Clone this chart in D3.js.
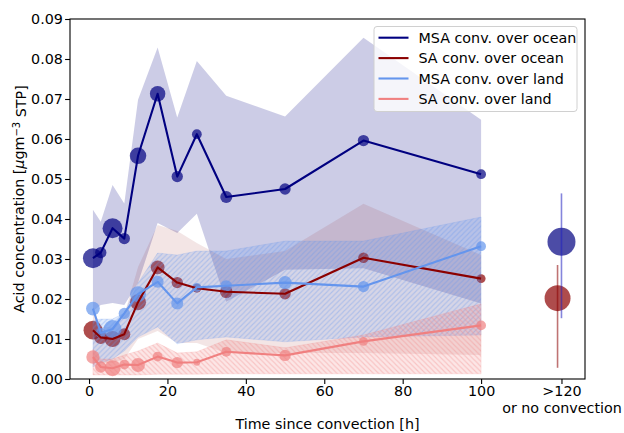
<!DOCTYPE html>
<html>
<head>
<meta charset="utf-8">
<script src="https://cdn.jsdelivr.net/npm/d3@7"></script>
<style>
  body { margin: 0; background: #fff; }
  svg text { font-family: "DejaVu Sans", sans-serif; }
</style>
</head>
<body>
<svg id="chart" width="624" height="433"></svg>
<script>
// Hours since last convection (bin centres)
const hours = [1, 3, 6, 9, 12.5, 17.5, 22.5, 27.5, 35, 50, 70, 100];

// Median acid concentrations [µg m^-3 STP]
const msaOcean = [0.0302, 0.0316, 0.0377, 0.0351, 0.0558, 0.0713, 0.0506, 0.0612, 0.0455, 0.0475, 0.0596, 0.0512];
const saOcean  = [0.0122, 0.0104, 0.0100, 0.0112, 0.0192, 0.0279, 0.0241, 0.0227, 0.0218, 0.0213, 0.0303, 0.0251];
const msaLand  = [0.0176, 0.0115, 0.0125, 0.0164, 0.0212, 0.0243, 0.0189, 0.0229, 0.0233, 0.0241, 0.0231, 0.0332];
const saLand   = [0.0055, 0.0030, 0.0027, 0.0036, 0.0035, 0.0056, 0.0041, 0.0042, 0.0068, 0.0059, 0.0094, 0.0134];

// Spread of each bin (lower / upper bounds)
const msaOceanLow  = [0.0170, 0.0185, 0.0190, 0.0185, 0.0240, 0.0390, 0.0365, 0.0413, 0.0193, 0.0273, 0.0277, 0.0189];
const msaOceanHigh = [0.0423, 0.0393, 0.0485, 0.0439, 0.0698, 0.0829, 0.0654, 0.0795, 0.0708, 0.0656, 0.0853, 0.0648];
const saOceanLow   = [0.0040, 0.0040, 0.0040, 0.0050, 0.0100, 0.0120, 0.0090, 0.0090, 0.0065, 0.0065, 0.0065, 0.0060];
const saOceanHigh  = [0.0180, 0.0130, 0.0130, 0.0160, 0.0280, 0.0385, 0.0370, 0.0340, 0.0300, 0.0320, 0.0438, 0.0310];
const msaLandLow   = [0.0030, 0.0040, 0.0050, 0.0070, 0.0105, 0.0130, 0.0088, 0.0098, 0.0105, 0.0093, 0.0105, 0.0110];
const msaLandHigh  = [0.0145, 0.0150, 0.0150, 0.0165, 0.0240, 0.0315, 0.0310, 0.0320, 0.0320, 0.0345, 0.0345, 0.0405];
const saLandLow    = [0.0010, 0.0010, 0.0010, 0.0010, 0.0010, 0.0012, 0.0012, 0.0012, 0.0013, 0.0013, 0.0013, 0.0013];
const saLandHigh   = [0.0075, 0.0050, 0.0050, 0.0060, 0.0070, 0.0090, 0.0065, 0.0068, 0.0098, 0.0078, 0.0110, 0.0188];

// Number of samples per bin (marker area)
const msaOceanN = [25, 8, 25, 8, 17, 15, 8, 6, 9, 8, 8, 6];
const saOceanN  = [22, 11, 16, 9, 16, 12, 8, 5, 10, 8, 7, 5];
const msaLandN  = [12, 6, 20, 8, 16, 9, 9, 5, 8, 11, 8, 6];
const saLandN   = [11, 8, 16, 6, 12, 6, 8, 3, 6, 8, 5, 6];

// Samples with no convection within 120 h
const noConvHour = [120.5, 119.5];
const noConvValue = [0.0343, 0.0202];
const noConvLow = [0.0152, 0.0028];
const noConvHigh = [0.0464, 0.0285];
const noConvN = [49, 42];

// Axis ticks
const xTicks = [0, 20, 40, 60, 80, 100, 120.5];
const xTickLabels = ["0", "20", "40", "60", "80", "100", ">120"];
const yTicks = [0, 0.01, 0.02, 0.03, 0.04, 0.05, 0.06, 0.07, 0.08, 0.09];

const svg = d3.select("#chart");
const pL = 70, pR = 585, pT = 19, pB = 379;
const x = d3.scaleLinear().domain([-4.85, 126.5]).range([pL, pR]);
const y = d3.scaleLinear().domain([0, 0.09]).range([pB, pT]);
const r = d3.scaleSqrt().domain([0, 100]).range([0, 20]);
const FS = 14.3;

const defs = svg.append("defs");
defs.append("clipPath").attr("id", "plotClip").append("rect")
  .attr("x", pL).attr("y", pT).attr("width", pR - pL).attr("height", pB - pT);

function hatch(id, color, dir) {
  const s = 5.2;
  const p = defs.append("pattern").attr("id", id)
    .attr("patternUnits", "userSpaceOnUse").attr("width", s).attr("height", s);
  const d = dir === "/"
    ? `M0,${s} L${s},0 M${-s/2},${s/2} L${s/2},${-s/2} M${s/2},${s*1.5} L${s*1.5},${s/2}`
    : `M0,0 L${s},${s} M${-s/2},${s/2} L${s/2},${s*1.5} M${s/2},${-s/2} L${s*1.5},${s/2}`;
  p.append("path").attr("d", d).attr("stroke", color).attr("stroke-width", 1.1).attr("fill", "none");
}
hatch("hatchMsa", "rgba(100,149,237,0.35)", "/");
hatch("hatchSa", "rgba(240,128,128,0.35)", "\\");

const series = [
  { name: "MSA conv. over ocean", color: "#000080", vals: msaOcean, lo: msaOceanLow, hi: msaOceanHigh, n: msaOceanN, alpha: 0.2, hatch: null },
  { name: "SA conv. over ocean", color: "#8b0000", vals: saOcean, lo: saOceanLow, hi: saOceanHigh, n: saOceanN, alpha: 0.1, hatch: null },
  { name: "MSA conv. over land", color: "#6495ed", vals: msaLand, lo: msaLandLow, hi: msaLandHigh, n: msaLandN, alpha: 0.2, hatch: "hatchMsa" },
  { name: "SA conv. over land", color: "#f08080", vals: saLand, lo: saLandLow, hi: saLandHigh, n: saLandN, alpha: 0.2, hatch: "hatchSa" }
];

const plot = svg.append("g").attr("clip-path", "url(#plotClip)");
const area = d3.area().x(d => x(d.h)).y0(d => y(d.lo)).y1(d => y(d.hi));
const line = d3.line().x(d => x(d.h)).y(d => y(d.v));

// Bands and markers in drawing order
series.forEach(s => {
  const pts = hours.map((h, i) => ({ h, v: s.vals[i], lo: s.lo[i], hi: s.hi[i], n: s.n[i] }));
  plot.append("path").datum(pts).attr("d", area)
    .attr("fill", s.color).attr("fill-opacity", s.alpha)
    .attr("stroke", s.hatch ? s.color : "none").attr("stroke-opacity", 0.15).attr("stroke-width", 1);
  if (s.hatch) {
    plot.append("path").datum(pts).attr("d", area).attr("fill", `url(#${s.hatch})`);
  }
  plot.append("g").selectAll("circle").data(pts).join("circle")
    .attr("cx", d => x(d.h)).attr("cy", d => y(d.v)).attr("r", d => r(d.n))
    .attr("fill", s.color).attr("fill-opacity", 0.7);
});

// No-convection markers
const noConvColors = ["#000080", "#8b0000"];
noConvValue.forEach((v, i) => {
  plot.append("circle").attr("cx", x(noConvHour[i])).attr("cy", y(v)).attr("r", r(noConvN[i]))
    .attr("fill", noConvColors[i]).attr("fill-opacity", 0.7);
});

// Lines on top
series.forEach(s => {
  const pts = hours.map((h, i) => ({ h, v: s.vals[i] }));
  plot.append("path").datum(pts).attr("d", line)
    .attr("fill", "none").attr("stroke", s.color).attr("stroke-width", 2.1)
    .attr("stroke-linejoin", "round");
});
noConvValue.forEach((v, i) => {
  plot.append("line").attr("x1", x(noConvHour[i])).attr("x2", x(noConvHour[i]))
    .attr("y1", y(noConvLow[i])).attr("y2", y(noConvHigh[i]))
    .attr("stroke", i === 0 ? "#2020c0" : "#8b0000").attr("stroke-opacity", 0.55).attr("stroke-width", 1.6);
});

// Axes
const xAxis = svg.append("g").attr("transform", `translate(0,${pB})`)
  .call(d3.axisBottom(x).tickValues(xTicks).tickFormat((d, i) => xTickLabels[i]).tickSize(4.9).tickPadding(2.4));
const yAxis = svg.append("g").attr("transform", `translate(${pL},0)`)
  .call(d3.axisLeft(y).tickValues(yTicks).tickFormat(d3.format(".2f")).tickSize(4.9).tickPadding(2.2));
[xAxis, yAxis].forEach(a => {
  a.select(".domain").remove();
  a.selectAll("text").attr("font-size", FS).attr("font-family", "DejaVu Sans").attr("fill", "#000");
  a.selectAll("line").attr("stroke", "#000").attr("stroke-width", 1.1);
});
xAxis.selectAll(".tick").filter((d, i) => i === xTicks.length - 1)
  .append("text").attr("y", 7.3).attr("dy", "1.87em").attr("text-anchor", "middle")
  .attr("font-size", FS).attr("fill", "#000").text("or no convection");

// Frame
svg.append("rect").attr("x", pL).attr("y", pT).attr("width", pR - pL).attr("height", pB - pT)
  .attr("fill", "none").attr("stroke", "#000").attr("stroke-width", 1.1);

// Axis titles
svg.append("text").attr("x", (pL + pR) / 2).attr("y", 424).attr("dy", "0.35em")
  .attr("text-anchor", "middle").attr("font-size", FS).text("Time since convection [h]");
const yt = svg.append("text").attr("transform", `translate(19,${(pT + pB) / 2}) rotate(-90)`)
  .attr("dy", "0.35em").attr("text-anchor", "middle").attr("font-size", FS);
yt.append("tspan").text("Acid concentration [");
yt.append("tspan").attr("font-style", "italic").text("μ");
yt.append("tspan").text("gm");
yt.append("tspan").attr("dy", "-0.45em").attr("font-size", FS * 0.7).text("−3");
yt.append("tspan").attr("dy", "0.45em").text(" STP]");

// Legend
const lg = svg.append("g").attr("transform", "translate(374,26.5)");
lg.append("rect").attr("width", 203).attr("height", 85).attr("rx", 3)
  .attr("fill", "#fff").attr("fill-opacity", 0.8).attr("stroke", "#d0d0d0").attr("stroke-width", 1);
series.forEach((s, i) => {
  const yy = 11.2 + i * 20.4;
  lg.append("line").attr("x1", 4.5).attr("x2", 34.5).attr("y1", yy).attr("y2", yy)
    .attr("stroke", s.color).attr("stroke-width", 2.1);
  lg.append("text").attr("x", 44.5).attr("y", yy).attr("dy", "0.35em")
    .attr("font-size", FS).text(s.name);
});
</script>
</body>
</html>
